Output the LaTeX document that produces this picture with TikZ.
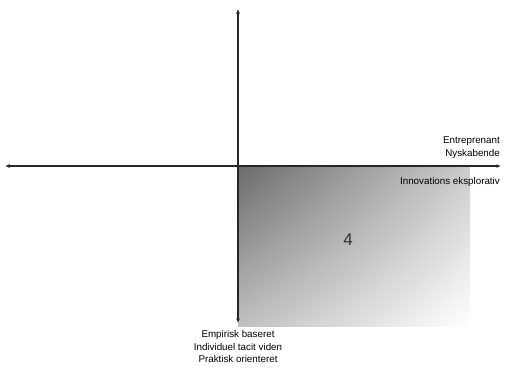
\documentclass[tikz,border=0pt]{standalone}
\usepackage{fontspec}
\setmainfont{Liberation Sans}
\usetikzlibrary{positioning, arrows.meta, shadings}

\begin{document}
\begin{tikzpicture}[
    x=1pt, y=-1pt,
    axis/.style={{Latex[length=4.5pt,width=4pt]}-{Latex[length=4.5pt,width=4pt]}, line width=1.3pt, black!85},
    lbl/.style={font=\fontsize{9.8}{12.8}\selectfont, inner sep=0pt},
    quad/.style={upper left=black!58, upper right=black!20, lower left=black!25, lower right=white}
]
\useasboundingbox (0,0) rectangle (508,368);

% quadrant 4
\shade[quad] (238,166) rectangle (470,326);
\node[font=\fontsize{17}{17}\selectfont, text=black!80] (four) at (348,240) {4};

% axes
\coordinate (west)  at (5,166);
\coordinate (east)  at (501,166);
\coordinate (north) at (238,9);
\coordinate (south) at (238,323);
\draw[axis] (west) -- (east);
\draw[axis] (north) -- (south);

\node[lbl, align=right, anchor=south east] (east top) at (500,159) {Entreprenant\\Nyskabende};
\node[lbl, anchor=north east] (east bot) at (500,177) {Innovations eksplorativ};
\node[lbl, align=center, anchor=north] (south lbl) at (238,330) {Empirisk baseret\\Individuel tacit viden\\Praktisk orienteret};
\end{tikzpicture}
\end{document}
